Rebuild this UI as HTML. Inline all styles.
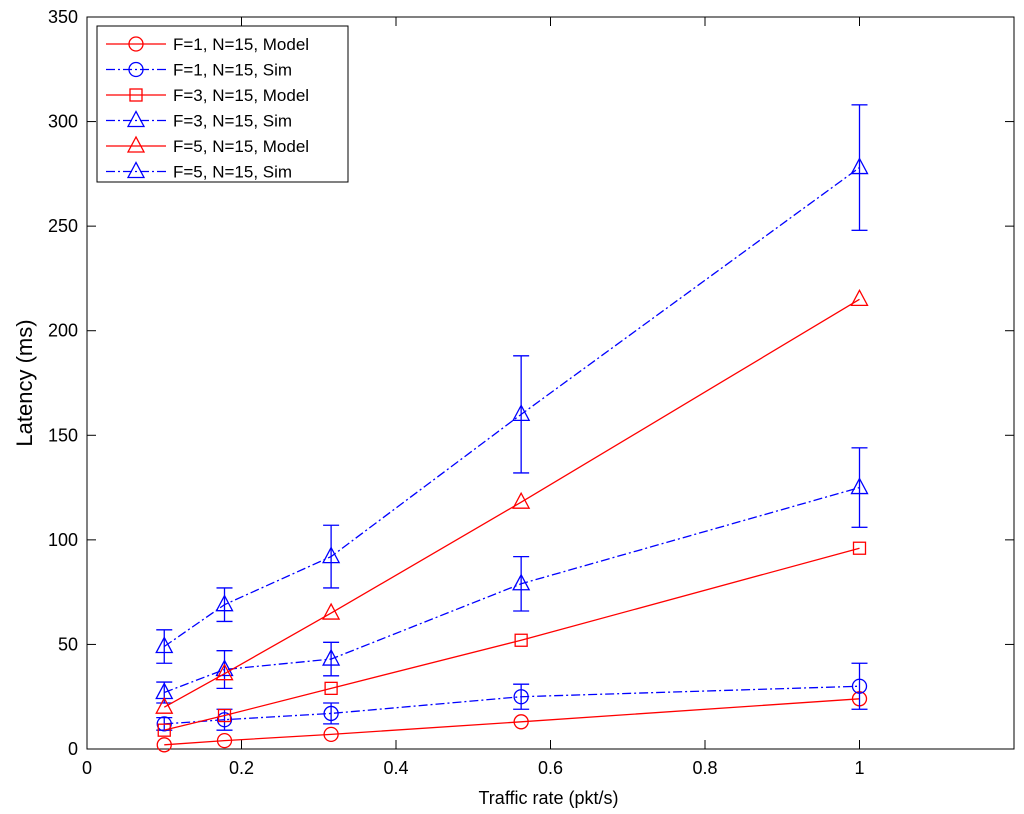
<!DOCTYPE html>
<html><head><meta charset="utf-8"><style>
body{margin:0;background:#fff;}
svg{display:block;font-family:"Liberation Sans",sans-serif;}
</style></head><body>
<svg id="chart" width="1024" height="814" xmlns="http://www.w3.org/2000/svg">
<rect width="1024" height="814" fill="#fff"/>
<g id="plot"></g>
</svg>
<script>
const xVals=[0.1,0.178,0.316,0.562,1];
const f1Model=[2,4,7,13,24];
const f1Sim=[12,14,17,25,30];
const f1Err=[3,5,5,6,11];
const f3Model=[9,16,29,52,96];
const f3Sim=[27,38,43,79,125];
const f3Err=[5,9,8,13,19];
const f5Model=[20,36,65,118,215];
const f5Sim=[49,69,92,160,278];
const f5Err=[8,8,15,28,30];
const xTicks=[0,0.2,0.4,0.6,0.8,1];
const yTicks=[0,50,100,150,200,250,300,350];
const legendLabels=["F=1, N=15, Model","F=1, N=15, Sim","F=3, N=15, Model","F=3, N=15, Sim","F=5, N=15, Model","F=5, N=15, Sim"];

const L=87,T=17,R=1014,B=749;
const xs=v=>L+(v/1.2)*(R-L);
const ys=v=>B-(v/350)*(B-T);
const NS="http://www.w3.org/2000/svg";
const g=document.getElementById('plot');
function mk(tag,attrs,parent){const e=document.createElementNS(NS,tag);for(const k in attrs)e.setAttribute(k,attrs[k]);(parent||g).appendChild(e);return e;}

const frame=mk('rect',{x:L,y:T,width:R-L,height:B-T,fill:'none',stroke:'#000','stroke-width':1});


xTicks.forEach(t=>{
  const x=xs(t);
  mk('line',{x1:x,y1:B,x2:x,y2:B-9,stroke:'#000'});mk('line',{x1:x,y1:T,x2:x,y2:T+9,stroke:'#000'});
  const tx=mk('text',{x:x,y:B+25,'font-size':18,'text-anchor':'middle'});tx.textContent=String(t);
  
  
});
yTicks.forEach(t=>{
  const y=ys(t);
  mk('line',{x1:L,y1:y,x2:L+9,y2:y,stroke:'#000'});mk('line',{x1:R,y1:y,x2:R-9,y2:y,stroke:'#000'});
  const tx=mk('text',{x:L-9,y:y+6,'font-size':18,'text-anchor':'end'});tx.textContent=String(t);
  
  
});
const xt=mk('text',{x:(L+R)/2-2,y:B+55,'font-size':18,'text-anchor':'middle'});xt.textContent='Traffic rate (pkt/s)';


const yt=mk('text',{x:0,y:0,'font-size':22,'text-anchor':'middle',transform:`translate(32,${(T+B)/2}) rotate(-90)`});yt.textContent='Latency (ms)';



function marker(type,x,y,color,parent){
  if(type==='o')mk('circle',{cx:x,cy:y,r:7,fill:'none',stroke:color,'stroke-width':1.3},parent);
  else if(type==='s')mk('rect',{x:x-6,y:y-6,width:12,height:12,fill:'none',stroke:color,'stroke-width':1.3},parent);
  else mk('polygon',{points:`${x},${y-9} ${x-8},${y+6} ${x+8},${y+6}`,fill:'none',stroke:color,'stroke-width':1.3},parent);
}
const series=[
 {d:f1Model,m:'o',c:'#ff0000',dash:null,name:'f1-model'},
 {d:f1Sim,e:f1Err,m:'o',c:'#0000ff',dash:'9 3 2 3',name:'f1-sim'},
 {d:f3Model,m:'s',c:'#ff0000',dash:null,name:'f3-model'},
 {d:f3Sim,e:f3Err,m:'^',c:'#0000ff',dash:'9 3 2 3',name:'f3-sim'},
 {d:f5Model,m:'^',c:'#ff0000',dash:null,name:'f5-model'},
 {d:f5Sim,e:f5Err,m:'^',c:'#0000ff',dash:'9 3 2 3',name:'f5-sim'}];
series.forEach(s=>{
  const sg=mk('g',{});
  
  
  const pts=s.d.map((v,i)=>xs(xVals[i])+','+ys(v)).join(' ');
  const pl=mk('polyline',{points:pts,fill:'none',stroke:s.c,'stroke-width':1.3},sg);
  if(s.dash)pl.setAttribute('stroke-dasharray',s.dash);
  s.d.forEach((v,i)=>{
    const x=xs(xVals[i]);
    if(s.e){const y1=ys(v-s.e[i]),y2=ys(v+s.e[i]);
      mk('line',{x1:x,y1:y1,x2:x,y2:y2,stroke:s.c,'stroke-width':1.3},sg);
      mk('line',{x1:x-8,y1:y1,x2:x+8,y2:y1,stroke:s.c,'stroke-width':1.3},sg);
      mk('line',{x1:x-8,y1:y2,x2:x+8,y2:y2,stroke:s.c,'stroke-width':1.3},sg);}
    marker(s.m,x,ys(v),s.c,sg);
  });
});
const lg=mk('g',{});


mk('rect',{x:97,y:26,width:251,height:156,fill:'#fff',stroke:'#000'},lg);
legendLabels.forEach((lab,i)=>{
  const s=series[i],y=44+i*25.5;
  const e=mk('g',{},lg);
  
  
  const ln=mk('line',{x1:106,y1:y,x2:166,y2:y,stroke:s.c,'stroke-width':1.3},e);
  if(s.dash)ln.setAttribute('stroke-dasharray',s.dash);
  marker(s.m,136,y,s.c,e);
  const t=mk('text',{x:173,y:y+6,'font-size':17},e);t.textContent=lab;
});
</script>
</body></html>
